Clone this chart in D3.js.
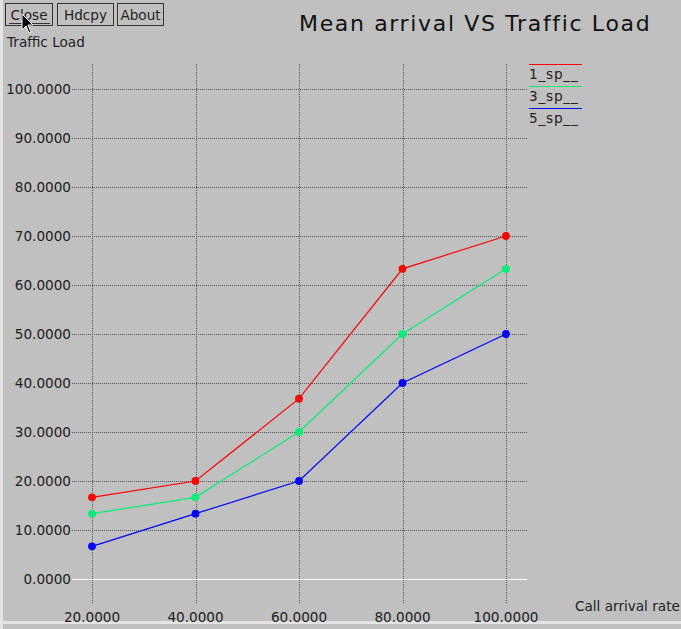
<!DOCTYPE html>
<html><head><meta charset="utf-8">
<script src="https://cdn.jsdelivr.net/npm/d3@7"></script>
<style>
body{margin:0;background:#c0c0c0;}
svg{display:block;font-family:"DejaVu Sans",sans-serif;}
</style></head>
<body>
<svg id="c" width="681" height="629"></svg>
<script>
const xValues = [20, 40, 60, 80, 100];
const yTicks = [0, 10, 20, 30, 40, 50, 60, 70, 80, 90, 100];
const seriesNames = ["1_sp__", "3_sp__", "5_sp__"];
const sp1 = [16.67, 20, 36.8, 63.3, 70];
const sp3 = [13.33, 16.67, 30, 50, 63.3];
const sp5 = [6.67, 13.33, 20, 40, 50];
const colors = ["#ff0000", "#00ee76", "#0000ff"];
const buttons = ["Close", "Hdcpy", "About"];

const svg = d3.select("#c");
svg.append("rect").attr("width",681).attr("height",629).attr("fill","#c0c0c0");
// window borders
svg.append("rect").attr("x",0).attr("y",0).attr("width",3).attr("height",629).attr("fill","#e4e4e4");
svg.append("rect").attr("x",0).attr("y",621).attr("width",681).attr("height",3).attr("fill","#e4e4e4");

const x = d3.scaleLinear().domain([20,100]).range([92,506]);
const y = d3.scaleLinear().domain([0,100]).range([579,89]);

// vertical grid
svg.append("g").selectAll("line").data(xValues).join("line")
  .attr("x1",d=>Math.round(x(d))+0.5).attr("x2",d=>Math.round(x(d))+0.5).attr("y1",64).attr("y2",603)
  .attr("stroke","#555").attr("stroke-width",1).attr("stroke-dasharray","1,1");
// horizontal grid
svg.append("g").selectAll("line").data(yTicks.filter(d=>d>0)).join("line")
  .attr("x1",72).attr("x2",527).attr("y1",d=>Math.round(y(d))+0.5).attr("y2",d=>Math.round(y(d))+0.5)
  .attr("stroke","#555").attr("stroke-width",1).attr("stroke-dasharray","1,1");
// zero line
svg.append("line").attr("x1",72).attr("x2",527).attr("y1",y(0)+0.5).attr("y2",y(0)+0.5)
  .attr("stroke","#ffffff").attr("stroke-width",1);

// y labels
svg.append("g").selectAll("text").data(yTicks).join("text")
  .attr("x",71).attr("y",d=>y(d)).attr("dy","0.36em").attr("text-anchor","end")
  .attr("font-size",13.6).attr("fill","#222").text(d=>d3.format(".4f")(d));
// x labels
svg.append("g").selectAll("text").data(xValues).join("text")
  .attr("x",d=>x(d)).attr("y",622).attr("text-anchor","middle")
  .attr("font-size",13.6).attr("fill","#222").text(d=>d3.format(".4f")(d));

svg.append("text").attr("x",575).attr("y",611).attr("font-size",13.6).attr("fill","#222").text("Call arrival rate");
svg.append("text").attr("x",7).attr("y",47).attr("font-size",13.6).attr("fill","#222").text("Traffic Load");
svg.append("text").attr("x",299).attr("y",31).attr("font-size",22).attr("letter-spacing",1.65).attr("fill","#111").text("Mean arrival VS Traffic Load");

// buttons
const bx = [5, 57, 117], bw = [48, 57, 47];
buttons.forEach((b,i)=>{
  svg.append("rect").attr("x",bx[i]+0.5).attr("y",3.5).attr("width",bw[i]-1).attr("height",22)
    .attr("fill","#c0c0c0").attr("stroke","#333");
  svg.append("text").attr("x",bx[i]+bw[i]/2).attr("y",20).attr("text-anchor","middle")
    .attr("font-size",13.6).attr("fill","#222").text(b);
});
svg.append("line").attr("x1",9).attr("x2",50).attr("y1",23.5).attr("y2",23.5).attr("stroke","#333");

// series
const series = [sp1, sp3, sp5];
const line = d3.line().x((d,i)=>x(xValues[i])).y(d=>y(d));
series.forEach((s,k)=>{
  svg.append("path").attr("d",line(s)).attr("fill","none").attr("stroke",colors[k]).attr("stroke-width",1.2);
  svg.append("g").selectAll("circle").data(s).join("circle")
    .attr("cx",(d,i)=>x(xValues[i])).attr("cy",d=>y(d)).attr("r",3.9).attr("fill",colors[k]);
});

// legend
seriesNames.forEach((n,k)=>{
  const ly = 64 + k*22;
  svg.append("line").attr("x1",529).attr("x2",582).attr("y1",ly+0.5).attr("y2",ly+0.5).attr("stroke",colors[k]).attr("stroke-width",1);
  svg.append("text").attr("x",529).attr("y",ly+15).attr("font-size",13.6).attr("letter-spacing",0.8).attr("fill","#222").text(n);
});

// mouse cursor
svg.append("path").attr("d","M22,14 L22,30 L26,26 L29,33 L31,32 L28,25 L33,25 Z")
  .attr("fill","#000").attr("stroke","#fff").attr("stroke-width",1);
</script>
</body></html>
